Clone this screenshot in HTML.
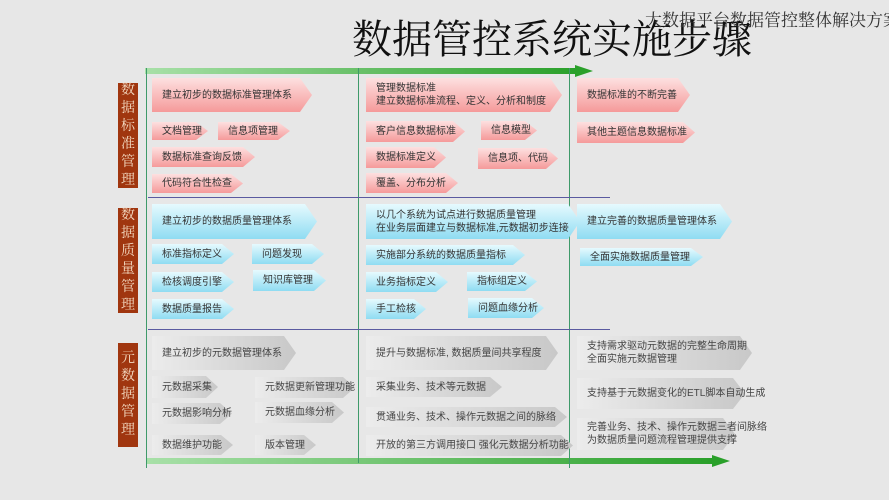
<!DOCTYPE html>
<html><head><meta charset="utf-8"><style>
body{margin:0;width:889px;height:500px;background:#e7e7e7;overflow:hidden;position:relative;font-family:"Liberation Sans","Noto Sans CJK SC",sans-serif}
.a{position:absolute}
.s{position:absolute;font-size:10px;color:#333;display:flex;align-items:center;padding-left:10px;box-sizing:border-box;line-height:13px;white-space:nowrap;z-index:1}
.s::before{content:"";position:absolute;left:0;top:0;right:0;bottom:0;z-index:-1;clip-path:polygon(0 0,calc(100% - 12px) 0,100% 50%,calc(100% - 12px) 100%,0 100%)}
.p::before{background:linear-gradient(#fde0e0,#f59a9a)}
.b::before{background:linear-gradient(#e6fafe,#8fdcf2)}
.g::before{background:linear-gradient(90deg,#ececec,#c8c8c8)}
.g{color:#444}
.side{position:absolute;left:118px;width:20px;background:#a0360f;color:#f3d9c0;font-size:14px;line-height:18px;text-align:center;display:flex;flex-direction:column;justify-content:center;font-family:"Liberation Serif","Noto Serif CJK SC",serif}
.v{position:absolute;width:1px;background:#3f9a6a}
.h{position:absolute;height:1px;background:#5a5aa0;left:148px;width:462px}
</style></head><body>
<div class="a" style="left:352px;top:8px;font-size:40px;font-family:'Liberation Serif','Noto Serif CJK SC',serif;color:#111;white-space:nowrap">数据管控系统实施步骤</div>
<div class="a" style="left:645px;top:6px;font-size:17px;font-family:'Liberation Serif','Noto Serif CJK SC',serif;color:#333;white-space:nowrap">大数据平台数据管控整体解决方案</div>

<div class="a" style="left:145px;top:68px;width:432px;height:6px;background:linear-gradient(90deg,#a8e0a8,#2aa02a)"></div>
<div class="a" style="left:575px;top:65px;width:0;height:0;border-left:18px solid #2aa02a;border-top:6px solid transparent;border-bottom:6px solid transparent"></div>
<div class="a" style="left:147px;top:458px;width:566px;height:6px;background:linear-gradient(90deg,#a8e0a8,#2aa02a)"></div>
<div class="a" style="left:712px;top:455px;width:0;height:0;border-left:18px solid #2aa02a;border-top:6px solid transparent;border-bottom:6px solid transparent"></div>

<div class="v" style="left:146px;top:68px;height:400px"></div>
<div class="v" style="left:358px;top:68px;height:395px"></div>
<div class="v" style="left:569px;top:68px;height:400px"></div>
<div class="h" style="top:197px"></div>
<div class="h" style="top:329px"></div>

<div class="side" style="top:83px;height:105px">数<br>据<br>标<br>准<br>管<br>理</div>
<div class="side" style="top:208px;height:105px">数<br>据<br>质<br>量<br>管<br>理</div>
<div class="side" style="top:343px;height:104px">元<br>数<br>据<br>管<br>理</div>

<div class="s p" style="left:152px;top:78px;width:160px;height:34px">建立初步的数据标准管理体系</div>
<div class="s p" style="left:152px;top:122px;width:56px;height:18px">文档管理</div>
<div class="s p" style="left:218px;top:122px;width:72px;height:18px">信息项管理</div>
<div class="s p" style="left:152px;top:147px;width:103px;height:20px">数据标准查询反馈</div>
<div class="s p" style="left:152px;top:174px;width:91px;height:19px">代码符合性检查</div>
<div class="s p" style="left:366px;top:78px;width:196px;height:34px">管理数据标准<br>建立数据标准流程、定义、分析和制度</div>
<div class="s p" style="left:366px;top:121px;width:99px;height:21px">客户信息数据标准</div>
<div class="s p" style="left:481px;top:121px;width:56px;height:19px">信息模型</div>
<div class="s p" style="left:366px;top:147px;width:80px;height:21px">数据标准定义</div>
<div class="s p" style="left:478px;top:148px;width:80px;height:21px">信息项、代码</div>
<div class="s p" style="left:366px;top:173px;width:92px;height:20px">覆盖、分布分析</div>
<div class="s p" style="left:577px;top:78px;width:113px;height:34px">数据标准的不断完善</div>
<div class="s p" style="left:577px;top:122px;width:118px;height:21px">其他主题信息数据标准</div>

<div class="s b" style="left:152px;top:204px;width:165px;height:35px">建立初步的数据质量管理体系</div>
<div class="s b" style="left:152px;top:244px;width:82px;height:20px">标准指标定义</div>
<div class="s b" style="left:252px;top:244px;width:72px;height:20px">问题发现</div>
<div class="s b" style="left:152px;top:272px;width:82px;height:20px">检核调度引擎</div>
<div class="s b" style="left:253px;top:270px;width:73px;height:21px">知识库管理</div>
<div class="s b" style="left:152px;top:299px;width:82px;height:20px">数据质量报告</div>
<div class="s b" style="left:366px;top:204px;width:214px;height:35px">以几个系统为试点进行数据质量管理<br>在业务层面建立与数据标准,元数据初步连接</div>
<div class="s b" style="left:366px;top:245px;width:159px;height:20px">实施部分系统的数据质量指标</div>
<div class="s b" style="left:366px;top:272px;width:82px;height:20px">业务指标定义</div>
<div class="s b" style="left:467px;top:272px;width:70px;height:19px">指标组定义</div>
<div class="s b" style="left:366px;top:299px;width:60px;height:20px">手工检核</div>
<div class="s b" style="left:468px;top:298px;width:76px;height:20px">问题血缘分析</div>
<div class="s b" style="left:577px;top:204px;width:155px;height:35px">建立完善的数据质量管理体系</div>
<div class="s b" style="left:580px;top:248px;width:123px;height:18px">全面实施数据质量管理</div>

<div class="s g" style="left:152px;top:336px;width:144px;height:34px">建立初步的元数据管理体系</div>
<div class="s g" style="left:152px;top:376px;width:66px;height:22px">元数据采集</div>
<div class="s g" style="left:255px;top:377px;width:100px;height:21px">元数据更新管理功能</div>
<div class="s g" style="left:152px;top:403px;width:80px;height:21px">元数据影响分析</div>
<div class="s g" style="left:255px;top:402px;width:89px;height:21px">元数据血缘分析</div>
<div class="s g" style="left:152px;top:435px;width:81px;height:20px">数据维护功能</div>
<div class="s g" style="left:255px;top:435px;width:61px;height:20px">版本管理</div>
<div class="s g" style="left:366px;top:336px;width:192px;height:34px">提升与数据标准, 数据质量间共享程度</div>
<div class="s g" style="left:366px;top:377px;width:136px;height:20px">采集业务、技术等元数据</div>
<div class="s g" style="left:366px;top:407px;width:201px;height:20px">贯通业务、技术、操作元数据之间的脉络</div>
<div class="s g" style="left:366px;top:435px;width:207px;height:21px">开放的第三方调用接口 强化元数据分析功能</div>
<div class="s g" style="left:577px;top:336px;width:175px;height:34px">支持需求驱动元数据的完整生命周期<br>全面实施元数据管理</div>
<div class="s g" style="left:577px;top:378px;width:168px;height:31px">支持基于元数据变化的ETL脚本自动生成</div>
<div class="s g" style="left:577px;top:418px;width:158px;height:32px">完善业务、技术、操作元数据三者间脉络<br>为数据质量问题流程管理提供支撑</div>
</body></html>
